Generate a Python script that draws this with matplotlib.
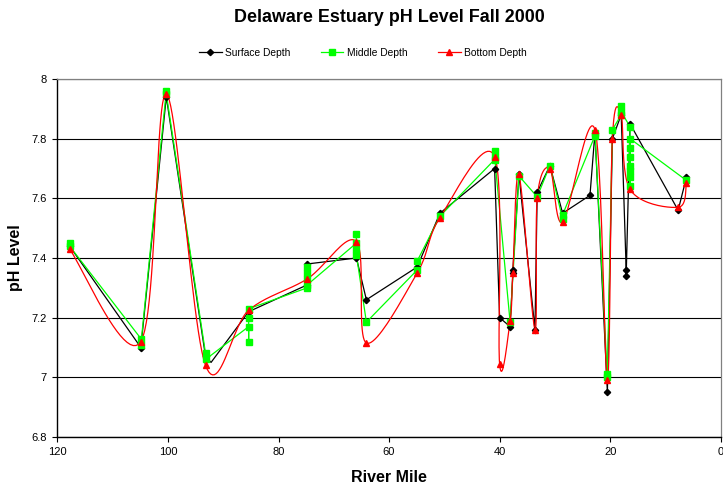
import numpy as np
import matplotlib
matplotlib.use("Agg")
import matplotlib.pyplot as plt
from matplotlib.lines import Line2D

plt.rcParams['font.family'] = ['Liberation Sans', 'DejaVu Sans']

# ---------------- data ----------------
surface_mile = [117.8, 104.9, 100.3, 93.2, 92.2, 85.4, 74.8, 74.8, 65.9, 64.1, 54.9, 50.8,
                40.9, 40.0, 38.1, 37.6, 37.6, 36.5, 33.6, 33.2, 30.9, 28.6, 23.65,
                22.75, 20.5, 19.6, 18.0, 17.1, 17.1, 16.4, 7.7, 6.2]
surface_ph = [7.44, 7.10, 7.94, 7.07, 7.05, 7.22, 7.31, 7.38, 7.40, 7.26, 7.37, 7.55,
              7.70, 7.20, 7.17, 7.35, 7.36, 7.68, 7.16, 7.62, 7.71, 7.55, 7.61,
              7.82, 6.95, 7.80, 7.88, 7.36, 7.34, 7.85, 7.56, 7.67]
surface_marked = [True, True, True, True, False, True, True, True, True, True, True, True,
                  True, True, True, True, True, True, True, True, True, True, True,
                  True, True, True, True, True, True, True, True, True]

middle_mile = [117.8, 117.8, 104.9, 104.9, 100.3, 100.3, 93.2, 93.2,
               85.4, 85.4, 85.4, 85.4,
               74.8, 74.8, 74.8, 74.8, 74.8,
               65.9, 65.9, 65.9, 65.9, 64.1, 54.9, 54.9, 50.8,
               40.9, 40.9, 40.9, 38.1, 36.5, 33.2, 30.9, 28.6, 28.6,
               22.75, 22.75, 20.5, 20.5, 19.6, 18.0, 18.0, 18.0,
               16.4, 16.4, 16.4, 16.4, 16.4, 16.4, 16.4, 16.4, 6.2]
middle_ph = [7.45, 7.44, 7.13, 7.11, 7.96, 7.95, 7.08, 7.06,
             7.17, 7.12, 7.20, 7.23,
             7.30, 7.37, 7.35, 7.33, 7.31,
             7.45, 7.48, 7.43, 7.41, 7.185, 7.36, 7.39, 7.54,
             7.73, 7.76, 7.74, 7.185, 7.675, 7.605, 7.71, 7.53, 7.545,
             7.81, 7.82, 7.00, 7.01, 7.83, 7.88, 7.91, 7.89,
             7.84, 7.77, 7.74, 7.71, 7.69, 7.67, 7.64, 7.80, 7.66]

bottom_mile = [117.8, 104.9, 100.3, 93.2, 85.4, 74.8, 65.9, 64.1, 54.9, 50.8,
               40.9, 40.0, 38.1, 37.6, 36.5, 33.6, 33.2, 30.9, 28.6, 22.75,
               20.5, 19.6, 18.0, 16.4, 7.7, 6.2]
bottom_ph = [7.43, 7.12, 7.95, 7.04, 7.225, 7.33, 7.455, 7.115, 7.35, 7.535,
             7.74, 7.045, 7.19, 7.35, 7.68, 7.16, 7.60, 7.70, 7.52, 7.83,
             6.99, 7.80, 7.88, 7.63, 7.57, 7.65]

series_names = ["Surface Depth", "Middle Depth", "Bottom Depth"]
x_ticks = [120, 100, 80, 60, 40, 20, 0]
y_ticks = [6.8, 7.0, 7.2, 7.4, 7.6, 7.8, 8.0]
y_tick_labels = ["6.8", "7", "7.2", "7.4", "7.6", "7.8", "8"]


def smooth(x, y, n=24):
    """Excel-like smoothing: cubic Bezier with Catmull-Rom control points."""
    P = np.column_stack([np.asarray(x, float), np.asarray(y, float)])
    Q = np.vstack([P[0], P, P[-1]])
    t = np.linspace(0, 1, n)[:, None]
    out = []
    for i in range(1, len(Q) - 2):
        p0, p1, p2, p3 = Q[i - 1], Q[i], Q[i + 1], Q[i + 2]
        c1 = p1 + (p2 - p0) / 6.0
        c2 = p2 - (p3 - p1) / 6.0
        seg = ((1 - t) ** 3) * p1 + 3 * ((1 - t) ** 2) * t * c1 + 3 * (1 - t) * t ** 2 * c2 + t ** 3 * p2
        out.append(seg if i == 1 else seg[1:])
    S = np.vstack(out)
    return S[:, 0], S[:, 1]


fig = plt.figure(figsize=(7.23, 4.86), dpi=100)
ax = fig.add_axes([57.4 / 723, 1 - 437 / 486, 663.3 / 723, 358 / 486])

# surface (black)
ax.plot(surface_mile, surface_ph, color='black', lw=0.9, zorder=3)
sm = np.array(surface_marked)
ax.plot(np.array(surface_mile)[sm], np.array(surface_ph)[sm], ls='none', marker='D',
        ms=3.2, color='black', zorder=4)

# middle (green, straight)
ax.plot(middle_mile, middle_ph, color='#00FF00', lw=0.9, zorder=3)
ax.plot(middle_mile, middle_ph, ls='none', marker='s', ms=4.4, color='#00FF00', zorder=4)

# bottom (red, smoothed)
bx, by = smooth(bottom_mile, bottom_ph)
ax.plot(bx, by, color='red', lw=0.9, zorder=3)
ax.plot(bottom_mile, bottom_ph, ls='none', marker='^', ms=4.6, color='red', zorder=5)

ax.set_xlim(120, 0)
ax.set_ylim(6.8, 8.0)
ax.set_xticks(x_ticks)
ax.set_xticklabels([str(v) for v in x_ticks])
ax.set_yticks(y_ticks)
ax.set_yticklabels(y_tick_labels)
ax.tick_params(axis='both', labelsize=8, length=3.5, width=0.8, direction='out', pad=4)
ax.yaxis.grid(True, color='black', lw=0.8)
ax.set_axisbelow(True)
for s in ['top', 'right']:
    ax.spines[s].set_color('#808080')
    ax.spines[s].set_linewidth(0.9)
for s in ['left', 'bottom']:
    ax.spines[s].set_color('black')
    ax.spines[s].set_linewidth(1.0)

ax.set_xlabel("River Mile", fontsize=11.5, fontweight='bold', labelpad=9)
ax.set_ylabel("pH Level", fontsize=11.5, fontweight='bold', labelpad=6)

fig.text(389.5 / 723, 1 - 18 / 486, "Delaware Estuary pH Level Fall 2000",
         ha='center', va='center', fontsize=12.9, fontweight='bold')

handles = [
    Line2D([], [], color='black', lw=0.9, marker='D', ms=3.2),
    Line2D([], [], color='#00FF00', lw=0.9, marker='s', ms=4.2),
    Line2D([], [], color='red', lw=0.9, marker='^', ms=4.6),
]
fig.legend(handles, series_names, loc='center', bbox_to_anchor=(362.7 / 723, 1 - 53 / 486),
           ncol=3, frameon=False, fontsize=7.4, handlelength=2.2, handletextpad=0.3,
           columnspacing=3.0)

fig.savefig("out.png", dpi=100)
